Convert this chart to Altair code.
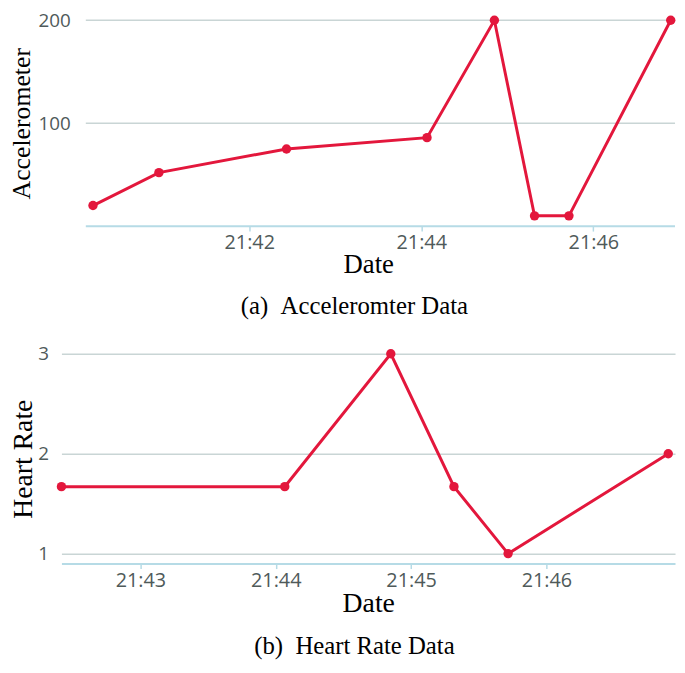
import altair as alt
import pandas as pd

# ---- data ----
acc_times = ["2020-01-01T21:40:11", "2020-01-01T21:40:57", "2020-01-01T21:42:26",
             "2020-01-01T21:44:04", "2020-01-01T21:44:51", "2020-01-01T21:45:19",
             "2020-01-01T21:45:43", "2020-01-01T21:46:54"]
acc_values = [20, 52, 75, 86, 200, 10, 10, 200]

hr_times = ["2020-01-01T21:42:25", "2020-01-01T21:44:04", "2020-01-01T21:44:51",
            "2020-01-01T21:45:19", "2020-01-01T21:45:43", "2020-01-01T21:46:54"]
hr_values = [1.67, 1.67, 3, 1.67, 1, 2]

acc_ticks = [(21, 42), (21, 44), (21, 46)]
hr_ticks = [(21, 43), (21, 44), (21, 45), (21, 46)]
acc_yticks = [100, 200]
hr_yticks = [1, 2, 3]

# extent of the accelerometer panel's frame (grid lines and baseline)
acc_base_value = [0]
acc_frame_start = "2020-01-01T21:40:06"
acc_frame_end = "2020-01-01T21:46:57"

acc_caption = "(a)\u2002Acceleromter Data"
hr_caption = "(b)\u2002Heart Rate Data"

LINE = "#e3173c"
GRID = "#c9d5d5"
AXIS = "#b6dbe6"
LABEL = "#4f5a5a"
SERIF = "Liberation Serif"
SANS = "Open Sans"


def dt(h, m, s=0):
    return alt.DateTime(year=2020, month=1, date=1, hours=h, minutes=m, seconds=s)


def x_axis(xticks, title_size, domain=True):
    return alt.Axis(title="Date", format="%H:%M",
                    values=[dt(h, m) for h, m in xticks],
                    grid=False, domain=domain, domainColor=AXIS, domainWidth=2,
                    tickColor=AXIS, tickWidth=1.5, tickSize=5,
                    labelPadding=2, labelFont=SANS, labelFontSize=20,
                    labelColor=LABEL, labelFlush=False,
                    titleFont=SERIF, titleFontSize=title_size,
                    titleFontWeight="normal", titleColor="black",
                    titlePadding=-1)


def y_axis(title, values, grid, title_size, title_pad, label_pad, offset=0):
    return alt.Axis(title=title, values=values, grid=grid,
                    labelExpr="toString(datum.value)",
                    gridColor=GRID, gridWidth=1.5, domain=False,
                    ticks=False, labelPadding=label_pad, labelOverlap=False,
                    labelFont=SANS, labelFontSize=19, labelColor=LABEL,
                    labelBaseline="middle", offset=offset,
                    titleFont=SERIF, titleFontSize=title_size,
                    titleFontWeight="normal", titleColor="black",
                    titlePadding=title_pad)


def caption_title(text, dx):
    return alt.TitleParams(text, orient="bottom", anchor="middle",
                           frame="bounds", font=SERIF, fontSize=25,
                           fontWeight="normal", color="black", offset=17, dx=dx)


# ---- top panel: accelerometer ----
acc_df = pd.DataFrame({"Date": acc_times, "v": acc_values})
acc_xscale = alt.Scale(domain=[dt(21, 39, 49), dt(21, 46, 57)], nice=False)
acc_yscale = alt.Scale(domain=[0, 200], nice=False, zero=False)
acc_xaxis = x_axis(acc_ticks, 27, domain=False)
acc_yaxis = y_axis("Accelerometer", acc_yticks, False, 26, 4, 20, offset=-29)

ax = alt.X("Date:T", scale=acc_xscale, axis=acc_xaxis)
ay = alt.Y("v:Q", scale=acc_yscale, axis=acc_yaxis)

grid_df = pd.DataFrame({"s": [acc_frame_start] * len(acc_yticks),
                        "e": [acc_frame_end] * len(acc_yticks),
                        "v": acc_yticks})
base_df = pd.DataFrame({"s": [acc_frame_start], "e": [acc_frame_end],
                        "v": acc_base_value})

acc_grid = alt.Chart(grid_df).mark_rule(color=GRID, strokeWidth=1.5).encode(
    x=alt.X("s:T", scale=acc_xscale, axis=acc_xaxis), x2="e:T",
    y=alt.Y("v:Q", scale=acc_yscale, axis=acc_yaxis))
acc_base = alt.Chart(base_df).mark_rule(color=AXIS, strokeWidth=2).encode(
    x=alt.X("s:T", scale=acc_xscale, axis=acc_xaxis), x2="e:T",
    y=alt.Y("v:Q", scale=acc_yscale, axis=acc_yaxis))
acc_line = alt.Chart(acc_df).mark_line(color=LINE, strokeWidth=3).encode(x=ax, y=ay)
acc_pts = alt.Chart(acc_df).mark_circle(color=LINE, size=90, opacity=1).encode(x=ax, y=ay)

top = alt.layer(acc_grid, acc_base, acc_line, acc_pts).properties(
    width=620, height=208, title=caption_title(acc_caption, 12))

# ---- bottom panel: heart rate ----
hr_df = pd.DataFrame({"Date": hr_times, "v": hr_values})
hx = alt.X("Date:T", scale=alt.Scale(domain=[dt(21, 42, 25), dt(21, 46, 57)], nice=False),
           axis=x_axis(hr_ticks, 28))
hy = alt.Y("v:Q", scale=alt.Scale(domain=[0.9, 3], nice=False, zero=False),
           axis=y_axis("Heart Rate", hr_yticks, True, 28, 0, 13))
hr_line = alt.Chart(hr_df).mark_line(color=LINE, strokeWidth=3).encode(x=hx, y=hy)
hr_pts = alt.Chart(hr_df).mark_circle(color=LINE, size=90, opacity=1).encode(x=hx, y=hy)

bottom = alt.layer(hr_line, hr_pts).properties(
    width=620, height=212, title=caption_title(hr_caption, 12))

chart = alt.vconcat(top, bottom, spacing=26, padding=0, background="white"
                    ).configure_view(stroke=None)

chart.save("out.html", embed_options={"renderer": "svg", "actions": False})
